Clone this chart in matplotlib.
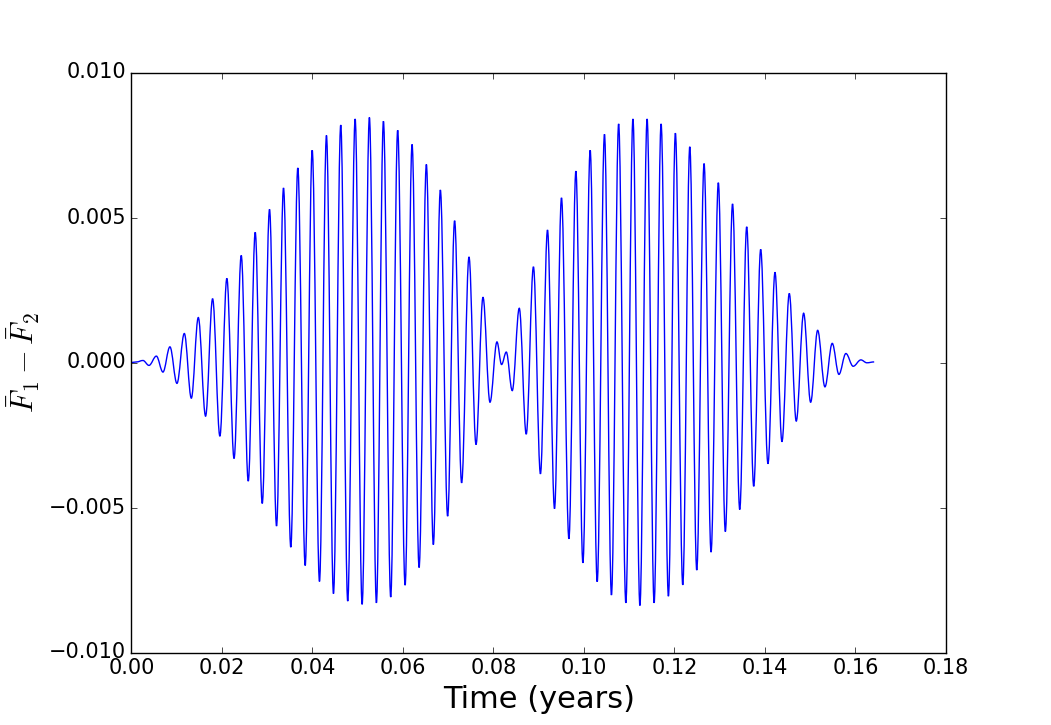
#!/usr/bin/env python3

import numpy as np
import matplotlib
matplotlib.use("Agg")
import matplotlib.pyplot as plt
from matplotlib.path import Path
from matplotlib.patches import PathPatch

# extrema of the beat signal (time in years)
t = np.array([
    0.0, 0.00117, 0.00256, 0.00389, 0.00552, 0.00698, 0.00852, 0.01007,
    0.01170, 0.01325, 0.01479, 0.01640, 0.01795, 0.01956, 0.02110, 0.02269,
    0.02428, 0.02583, 0.02737, 0.02892, 0.03053, 0.03208, 0.03362, 0.03523,
    0.03678, 0.03841, 0.03996, 0.04157, 0.04311, 0.04466, 0.04627, 0.04781,
    0.04945, 0.05099, 0.05260, 0.05415, 0.05570, 0.05731, 0.05885, 0.06049,
    0.06203, 0.06358, 0.06519, 0.06673, 0.06828, 0.06989, 0.07143, 0.07298,
    0.07461, 0.07616, 0.07770, 0.07925, 0.08079, 0.08181, 0.08285, 0.08417,
    0.08572, 0.08726, 0.08885, 0.09040, 0.09196, 0.09351, 0.09505, 0.09669,
    0.09823, 0.09978, 0.10139, 0.10294, 0.10455, 0.10609, 0.10768, 0.10927,
    0.11084, 0.11238, 0.11397, 0.11552, 0.11706, 0.11868, 0.12022, 0.12185,
    0.12340, 0.12494, 0.12656, 0.12810, 0.12971, 0.13126, 0.13285, 0.13444,
    0.13598, 0.13753, 0.13907, 0.14068, 0.14223, 0.14377, 0.14539, 0.14693,
    0.14856, 0.15011, 0.15166, 0.15327, 0.15488, 0.15636, 0.15790, 0.15951,
    0.16121, 0.16254, 0.16415,
])

dF = np.array([
    0.0, 0.00002, 0.00007, -0.00010, 0.00022, -0.00033, 0.00054, -0.00072,
    0.00100, -0.00123, 0.00155, -0.00185, 0.00220, -0.00254, 0.00290, -0.00331,
    0.00369, -0.00409, 0.00449, -0.00486, 0.00528, -0.00564, 0.00602, -0.00637,
    0.00671, -0.00700, 0.00732, -0.00755, 0.00783, -0.00797, 0.00819, -0.00823,
    0.00840, -0.00834, 0.00845, -0.00829, 0.00832, -0.00809, 0.00801, -0.00768,
    0.00752, -0.00707, 0.00683, -0.00628, 0.00595, -0.00530, 0.00489, -0.00415,
    0.00364, -0.00283, 0.00225, -0.00137, 0.00071, -0.00007, 0.00036, -0.00097,
    0.00187, -0.00247, 0.00330, -0.00384, 0.00457, -0.00504, 0.00568, -0.00608,
    0.00660, -0.00691, 0.00732, -0.00756, 0.00787, -0.00802, 0.00823, -0.00829,
    0.00840, -0.00838, 0.00840, -0.00829, 0.00823, -0.00806, 0.00791, -0.00767,
    0.00744, -0.00716, 0.00686, -0.00654, 0.00620, -0.00583, 0.00547, -0.00507,
    0.00468, -0.00427, 0.00390, -0.00349, 0.00311, -0.00273, 0.00238, -0.00202,
    0.00170, -0.00137, 0.00111, -0.00084, 0.00066, -0.00041, 0.00031, -0.00013,
    0.00009, -0.00001, 0.00002,
])

xticks = np.arange(0.0, 0.181, 0.02)
yticks = [-0.010, -0.005, 0.0, 0.005, 0.010]

plt.style.use("classic")
plt.rcParams["mathtext.fontset"] = "cm"

fig = plt.figure(figsize=(10.51, 7.25), dpi=100, facecolor="white")
ax = fig.add_axes([0.125, 0.1, 0.775, 0.8])

# smooth curve through the extrema: bezier segments with flat tangents at each extremum
k = 0.36
verts = [(t[0], dF[0])]
codes = [Path.MOVETO]
for i in range(len(t) - 1):
    dx = t[i + 1] - t[i]
    verts += [(t[i] + k * dx, dF[i]), (t[i + 1] - k * dx, dF[i + 1]), (t[i + 1], dF[i + 1])]
    codes += [Path.CURVE4] * 3
ax.add_patch(PathPatch(Path(verts, codes), facecolor="none", edgecolor="b", lw=1.0))

ax.set_xlim(0, 0.18)
ax.set_ylim(-0.010, 0.010)
ax.set_xticks(xticks)
ax.set_yticks(yticks)
ax.xaxis.set_major_formatter(plt.FormatStrFormatter("%.2f"))
ax.yaxis.set_major_formatter(plt.FuncFormatter(
    lambda v, p: ("%.3f" % v).replace("-", "\u2212") if abs(v) > 1e-12 else "0.000"))
ax.tick_params(labelsize=15)

ax.set_xlabel("Time (years)", fontsize=22)
ax.set_ylabel(r"$\bar{F}_1 - \bar{F}_2$", fontsize=22)

fig.savefig("out.png", dpi=100, facecolor="white")
